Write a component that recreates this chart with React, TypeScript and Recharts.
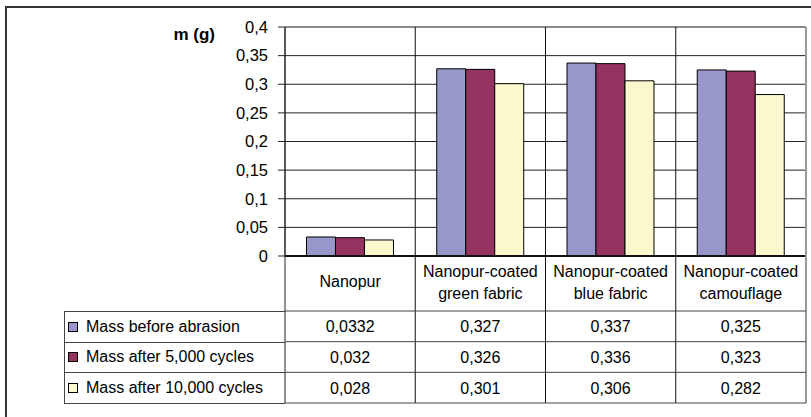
import { Bar, BarChart, CartesianGrid, Label, Legend, XAxis, YAxis } from "recharts";

const categories = [
  "Nanopur",
  "Nanopur-coated green fabric",
  "Nanopur-coated blue fabric",
  "Nanopur-coated camouflage",
];
const massBefore = [0.0332, 0.327, 0.337, 0.325];
const massAfter5k = [0.032, 0.326, 0.336, 0.323];
const massAfter10k = [0.028, 0.301, 0.306, 0.282];
const seriesNames = ["Mass before abrasion", "Mass after 5,000 cycles", "Mass after 10,000 cycles"];
const yTicks = [0, 0.05, 0.1, 0.15, 0.2, 0.25, 0.3, 0.35, 0.4];

const COLORS = ["#9797c9", "#943360", "#fcf8ce"];
const FONT = "'Liberation Sans', Arial, sans-serif";
const LINE = "#444";

const W = 811;
const H = 417;
const MARGIN = { top: 27, right: 5, bottom: 14, left: 205 };
const Y_AXIS_W = 80;
const X_AXIS_H = 147;
const PLOT_W = W - MARGIN.left - MARGIN.right - Y_AXIS_W;
const PLOT_H = H - MARGIN.top - MARGIN.bottom - X_AXIS_H;
const HEADER_H = 55;
const ROW_H = 92 / 3;

const data = categories.map((name, i) => ({
  name,
  before: massBefore[i],
  after5k: massAfter5k[i],
  after10k: massAfter10k[i],
}));
const seriesValues = [massBefore, massAfter5k, massAfter10k];

const comma = (v: number) => String(v).replace(".", ",");

// "Nanopur-coated green fabric" -> two lines, like the Excel data table header
function splitLabel(s: string) {
  const k = s.indexOf(" ");
  return k < 0 ? [s] : [s.slice(0, k), s.slice(k + 1)];
}

// each x tick draws one column of the data table under the plot
function TableColumn(props: any) {
  const { x, y, payload } = props;
  const i = payload.index;
  const half = PLOT_W / categories.length / 2;
  const lines = splitLabel(categories[i]);
  const rowTop = y + HEADER_H;
  const bottom = rowTop + 3 * ROW_H;
  const last = i === categories.length - 1;
  const txt = { textAnchor: "middle" as const, fontSize: 16, fontFamily: FONT, fill: "#000" };
  return (
    <g>
      <line x1={x - half} x2={x - half} y1={y - PLOT_H} y2={bottom} stroke={i === 0 ? "#222" : "#111"} />
      {last && (
        <line x1={x + half} x2={x + half} y1={y - PLOT_H} y2={bottom} stroke="#9a9a9a" strokeWidth={2} />
      )}
      {[0, 1, 2, 3].map((r) => (
        <line key={r} x1={x - half} x2={x + half} y1={rowTop + r * ROW_H} y2={rowTop + r * ROW_H} stroke={LINE} />
      ))}
      {lines.length === 1 ? (
        <text x={x} y={y + 31} {...txt}>{lines[0]}</text>
      ) : (
        <>
          <text x={x} y={y + 20.5} {...txt}>{lines[0]}</text>
          <text x={x} y={y + 43} {...txt}>{lines[1]}</text>
        </>
      )}
      {seriesValues.map((vals, r) => (
        <text key={r} x={x} y={rowTop + r * ROW_H + ROW_H / 2 + 6} {...txt}>
          {comma(vals[i])}
        </text>
      ))}
    </g>
  );
}

function LegendTable({ payload }: any) {
  // keep series order (legend sorts by name otherwise)
  const items = [...(payload ?? [])].sort(
    (a: any, b: any) => seriesNames.indexOf(a.value) - seriesNames.indexOf(b.value)
  );
  return (
    <div
      style={{
        width: 221,
        boxSizing: "border-box",
        borderLeft: `1px solid ${LINE}`,
        borderBottom: `1px solid ${LINE}`,
        fontFamily: FONT,
        fontSize: 16,
        color: "#000",
      }}
    >
      {items.map((entry: any, i: number) => (
        <div
          key={i}
          style={{
            height: ROW_H,
            boxSizing: "border-box",
            borderTop: `1px solid ${LINE}`,
            display: "flex",
            alignItems: "center",
            whiteSpace: "nowrap",
          }}
        >
          <span
            style={{
              width: 10,
              height: 10,
              boxSizing: "border-box",
              border: "1px solid #000",
              background: entry.color,
              marginLeft: 3,
              marginRight: 8,
              flex: "none",
            }}
          />
          <span>{entry.value}</span>
        </div>
      ))}
    </div>
  );
}

export default function App() {
  return (
    <div style={{ position: "absolute", left: 0, top: 0, width: W, height: H, background: "#fff", overflow: "hidden" }}>
      <div
        style={{
          position: "absolute",
          left: 5,
          top: 6,
          width: W,
          height: H,
          borderTop: "2px solid #333",
          borderLeft: "2px solid #333",
        }}
      />
      <BarChart width={W} height={H} data={data} margin={MARGIN} barCategoryGap="16.5%" barGap={0}>
        <CartesianGrid
          vertical={false}
          horizontal={(p: any) => (
            <line
              key={p.key ?? p.index}
              x1={p.x1}
              y1={p.y1}
              x2={p.x2}
              y2={p.y2}
              stroke={p.y1 < MARGIN.top + 2 ? "#8c8c8c" : "#222"}
              strokeWidth={p.y1 < MARGIN.top + 2 ? 2 : 1}
            />
          )}
        />
        <XAxis
          dataKey="name"
          height={X_AXIS_H}
          interval={0}
          tickSize={0}
          tickMargin={0}
          tickLine={false}
          axisLine={{ stroke: "#111", strokeWidth: 2 }}
          tick={<TableColumn />}
        />
        <YAxis
          width={Y_AXIS_W}
          domain={[0, 0.4]}
          ticks={yTicks}
          interval={0}
          tickFormatter={comma}
          tickSize={7}
          tickMargin={10}
          tick={{ fontSize: 16.5, fill: "#000", fontFamily: FONT }}
          tickLine={{ stroke: "#222" }}
          axisLine={{ stroke: "#222" }}
        >
          <Label
            content={({ viewBox }: any) => (
              <text
                x={viewBox.x + 10}
                y={viewBox.y + 13}
                textAnchor="end"
                fontSize={17}
                fontWeight="bold"
                fontFamily={FONT}
                fill="#000"
              >
                m (g)
              </text>
            )}
          />
        </YAxis>
        <Legend
          layout="horizontal"
          verticalAlign="middle"
          align="center"
          wrapperStyle={{ left: 64, top: 311, width: 221 }}
          content={<LegendTable />}
        />
        <Bar dataKey="before" name={seriesNames[0]} fill={COLORS[0]} stroke="#000" isAnimationActive={false} />
        <Bar dataKey="after5k" name={seriesNames[1]} fill={COLORS[1]} stroke="#000" isAnimationActive={false} />
        <Bar dataKey="after10k" name={seriesNames[2]} fill={COLORS[2]} stroke="#000" isAnimationActive={false} />
      </BarChart>
    </div>
  );
}
